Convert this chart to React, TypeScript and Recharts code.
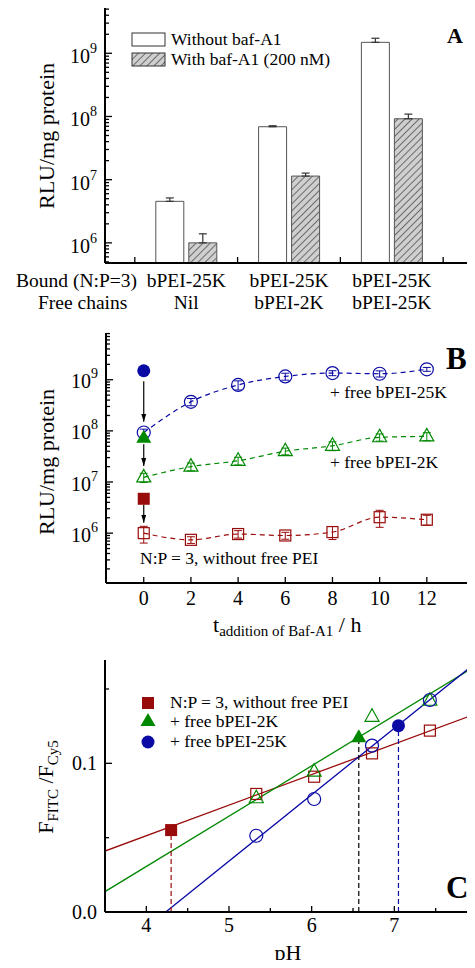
import React from 'react'
import { ComposedChart, Bar, Line, Scatter, XAxis, YAxis, ErrorBar, ReferenceLine } from 'recharts'

const FONT = '"Liberation Serif", "Times New Roman", serif'
const RED = '#990a0a'
const GREEN = '#008800'
const BLUE = '#0a0aa5'
const AXIS = { stroke: '#000', strokeWidth: 2 }

// ---- panel A: bar chart, RLU/mg protein
const groupPos = [1, 2, 3]
const boundChains = ['bPEI-25K', 'bPEI-25K', 'bPEI-25K']
const freeChains = ['Nil', 'bPEI-2K', 'bPEI-25K']
const noBaf = [4.54e6, 6.88e7, 1.49e9]
const noBafErr = [0.6e6, 0.25e7, 0.24e9]
const withBaf = [1.0e6, 1.14e7, 9.2e7]
const withBafErr = [0.39e6, 0.13e7, 1.7e7]
const aBoundaries = [0.5, 1.5, 2.5, 3.5]
const aMajorY = [1e6, 1e7, 1e8, 1e9]

// ---- panel B: time of baf-A1 addition
const hours = [0, 2, 4, 6, 8, 10, 12]
const noFree = [1.0e6, 7.4e5, 9.6e5, 9.0e5, 1.05e6, 2.05e6, 1.83e6]
const noFreeErr = [3.6e5, 1.1e5, 1.6e5, 1.4e5, 3.0e5, 7.5e5, 4.0e5]
const free2K = [1.23e7, 2.0e7, 2.6e7, 4.0e7, 5.1e7, 7.5e7, 7.8e7]
const free2KErr = [2.5e6, 3.5e6, 4.5e6, 6e6, 1.0e7, 1.2e7, 1.4e7]
const free25K = [9.3e7, 3.7e8, 7.9e8, 1.16e9, 1.35e9, 1.31e9, 1.6e9]
const free25KErr = [1.5e7, 6e7, 1.6e8, 1.8e8, 1.5e8, 1.8e8, 1.4e8]
// without baf-A1 (filled, t = 0), order: no free, 2K, 25K
const noBafAt0 = [4.7e6, 7.3e7, 1.5e9]
const arrowFrom = [3.6e6, 5.5e7, 9.3e8]
const arrowTo = [1.6e6, 2.05e7, 1.5e8]
const bMajorY = [1e6, 1e7, 1e8, 1e9]

// ---- panel C: pH calibration
const pHs = [5.33, 6.03, 6.73, 7.43]
const ratioNoFree = [0.0794, 0.091, 0.1067, 0.122]
const ratio2K = [0.0765, 0.0944, 0.1313, 0.1421]
const ratio25K = [0.0513, 0.076, 0.1119, 0.1426]
const fitNoFree = [[3.5, 0.041], [8, 0.1336]]
const fit2K = [[3.5, 0.0137], [8, 0.166]]
const fit25K = [[4.235, 0], [8, 0.1683]]
const endoPH = [4.3, 6.57, 7.05]
const endoRatio = [0.0551, 0.1175, 0.1253]
const cMajorX = [4, 5, 6, 7, 8]
const cMinorX = [4.5, 5.5, 6.5, 7.5]
const cMajorY = [0, 0.1]
const cMinorY = [0.05, 0.15]

function logMinors(lo: number, hi: number) {
  const out: number[] = []
  for (let e = Math.floor(Math.log10(lo)); e <= Math.ceil(Math.log10(hi)); e++) {
    for (let m = 2; m <= 9; m++) {
      const v = m * Math.pow(10, e)
      if (v >= lo && v <= hi) out.push(v)
    }
  }
  return out
}

const pow10 = (v: number) => (
  <>
    10<tspan dy={-10} fontSize={14}>{Math.round(Math.log10(v))}</tspan>
  </>
)

const leftTick = (majors: number[], fmt: (v: number) => React.ReactNode, dy: number) => (p: any) => {
  const v = p.payload.value
  const major = majors.includes(v)
  return (
    <g>
      <line x1={p.x} x2={p.x + (major ? 7 : 4)} y1={p.y} y2={p.y} stroke="#000" strokeWidth={1.3} />
      {major && (
        <text x={p.x - 8} y={p.y + dy} textAnchor="end" fontFamily={FONT} fontSize={20} fill="#000">
          {fmt(v)}
        </text>
      )}
    </g>
  )
}

const bottomTick = (majors: number[], dy: number, len = 6) => (p: any) => {
  const v = p.payload.value
  const major = majors.includes(v)
  return (
    <g>
      <line x1={p.x} x2={p.x} y1={p.y} y2={p.y - (major ? len : 4)} stroke="#000" strokeWidth={1.3} />
      {major && (
        <text x={p.x} y={p.y + dy} textAnchor="middle" fontFamily={FONT} fontSize={20} fill="#000">
          {v}
        </text>
      )}
    </g>
  )
}

const topTick = (p: any) => (
  <line x1={p.x} x2={p.x} y1={p.y} y2={p.y + 5} stroke="#000" strokeWidth={1.3} />
)

// A: ticks at group boundaries, two-line labels at group centres
const aBottomTick = (p: any) => {
  const v = p.payload.value
  const i = groupPos.indexOf(v)
  if (i < 0) return <line x1={p.x} x2={p.x} y1={p.y} y2={p.y - 6} stroke="#000" strokeWidth={1.3} />
  return (
    <g fontFamily={FONT} fontSize={19.5} fill="#000">
      <text x={p.x} y={p.y + 24} textAnchor="middle">{boundChains[i]}</text>
      <text x={p.x} y={p.y + 46} textAnchor="middle">{freeChains[i]}</text>
    </g>
  )
}

const openCircle = (c: string) => (p: any) => (
  <circle key={`oc${p.index}`} cx={p.cx} cy={p.cy} r={6.5} fill="none" stroke={c} strokeWidth={1.2} />
)
const openSquare = (c: string) => (p: any) => (
  <rect key={`os${p.index}`} x={p.cx - 5.5} y={p.cy - 5.5} width={11} height={11} fill="none" stroke={c} strokeWidth={1.2} />
)
const openTri = (c: string) => (p: any) => (
  <polygon
    key={`ot${p.index}`}
    points={`${p.cx},${p.cy - 8} ${p.cx - 7},${p.cy + 4.5} ${p.cx + 7},${p.cy + 4.5}`}
    fill="none"
    stroke={c}
    strokeWidth={1.2}
  />
)
const fillCircle = (c: string) => (p: any) => <circle cx={p.cx} cy={p.cy} r={6.5} fill={c} />
const fillSquare = (c: string) => (p: any) => <rect x={p.cx - 6} y={p.cy - 6} width={12} height={12} fill={c} />
const fillTri = (c: string) => (p: any) => (
  <polygon points={`${p.cx},${p.cy - 8} ${p.cx - 7.5},${p.cy + 5} ${p.cx + 7.5},${p.cy + 5}`} fill={c} />
)

function PanelA() {
  const data = groupPos.map((g, i) => ({
    g,
    noBaf: noBaf[i],
    noBafErr: [0, noBafErr[i]],
    withBaf: withBaf[i],
    withBafErr: [0, withBafErr[i]],
  }))
  const domY = [4.8e5, 5.4e9]
  const ticksY = [...aMajorY, ...logMinors(domY[0], domY[1])].sort((a, b) => a - b)
  return (
    <div style={{ position: 'absolute', left: 0, top: 0 }}>
      <ComposedChart width={475} height={320} data={data} margin={{ top: 7, right: 1, left: 0, bottom: 0 }} barGap={5}>
        <defs>
          <pattern id="hatchA" width="5" height="5" patternUnits="userSpaceOnUse" patternTransform="rotate(45)">
            <rect width="5" height="5" fill="#cfcfcf" />
            <line x1="0" y1="0" x2="0" y2="5" stroke="#333" strokeWidth="1.3" />
          </pattern>
        </defs>
        <XAxis dataKey="g" type="number" domain={[0.21, 3.8]} allowDataOverflow ticks={[...aBoundaries, ...groupPos]}
          interval={0} height={57} tickSize={0} tickMargin={0} tickLine={false} axisLine={AXIS} tick={aBottomTick} />
        <XAxis xAxisId="top" orientation="top" type="number" domain={[0.21, 3.8]} allowDataOverflow ticks={aBoundaries}
          interval={0} height={0} tickSize={0} tickMargin={0} tickLine={false} axisLine={AXIS} tick={topTick} />
        <YAxis scale="log" domain={domY} allowDataOverflow ticks={ticksY} interval={0} width={105}
          tickSize={0} tickMargin={0} tickLine={false} axisLine={AXIS} tick={leftTick(aMajorY, pow10, 10)} />
        <YAxis yAxisId="right" orientation="right" domain={[0, 1]} width={0} tick={false} tickLine={false} axisLine={AXIS} />
        <Bar dataKey="noBaf" barSize={28} fill="#fff" stroke="#555" strokeWidth={1} isAnimationActive={false}>
          <ErrorBar dataKey="noBafErr" width={4} stroke="#333" strokeWidth={1.2} direction="y" />
        </Bar>
        <Bar dataKey="withBaf" barSize={28} fill="url(#hatchA)" stroke="#555" strokeWidth={1} isAnimationActive={false}>
          <ErrorBar dataKey="withBafErr" width={4} stroke="#333" strokeWidth={1.2} direction="y" />
        </Bar>
      </ComposedChart>
    </div>
  )
}

function PanelB() {
  const rows = (vals: number[], errs: number[]) => hours.map((t, i) => ({ t, v: vals[i], e: errs[i] }))
  const domY = [1.06e5, 8.2e9]
  const ticksY = [...bMajorY, ...logMinors(domY[0], domY[1])].sort((a, b) => a - b)
  const colors = [RED, GREEN, BLUE]
  const filled = [fillSquare(RED), fillTri(GREEN), fillCircle(BLUE)]
  const dash = '5 4'
  return (
    <div style={{ position: 'absolute', left: 0, top: 320 }}>
      <ComposedChart width={475} height={300} margin={{ top: 13, right: 1, left: 0, bottom: 0 }}>
        <defs>
          <marker id="arrowB" viewBox="0 0 10 10" refX="10" refY="5" markerWidth="8" markerHeight="5"
            markerUnits="userSpaceOnUse" orient="auto" preserveAspectRatio="none">
            <path d="M0,0 L10,5 L0,10 z" fill="#000" />
          </marker>
        </defs>
        <XAxis dataKey="t" type="number" domain={[-1.6, 14]} allowDataOverflow ticks={hours} interval={0} height={37}
          tickSize={0} tickMargin={0} tickLine={false} axisLine={AXIS} tick={bottomTick(hours, 21.5)} />
        <XAxis xAxisId="top" orientation="top" type="number" domain={[-1.6, 14]} allowDataOverflow ticks={hours}
          interval={0} height={0} tickSize={0} tickMargin={0} tickLine={false} axisLine={AXIS} tick={topTick} />
        <YAxis scale="log" domain={domY} allowDataOverflow ticks={ticksY} interval={0} width={106}
          tickSize={0} tickMargin={0} tickLine={false} axisLine={AXIS} tick={leftTick(bMajorY, pow10, 8.5)} />
        <YAxis yAxisId="right" orientation="right" domain={[0, 1]} width={0} tick={false} tickLine={false} axisLine={AXIS} />
        <Line data={rows(noFree, noFreeErr)} dataKey="v" type="monotone" stroke={RED} strokeWidth={1.2}
          strokeDasharray={dash} dot={openSquare(RED)} activeDot={false} isAnimationActive={false}>
          <ErrorBar dataKey="e" width={4} stroke={RED} strokeWidth={1} direction="y" />
        </Line>
        <Line data={rows(free2K, free2KErr)} dataKey="v" type="monotone" stroke={GREEN} strokeWidth={1.2}
          strokeDasharray={dash} dot={openTri(GREEN)} activeDot={false} isAnimationActive={false}>
          <ErrorBar dataKey="e" width={4} stroke={GREEN} strokeWidth={1} direction="y" />
        </Line>
        <Line data={rows(free25K, free25KErr)} dataKey="v" type="monotone" stroke={BLUE} strokeWidth={1.2}
          strokeDasharray={dash} dot={openCircle(BLUE)} activeDot={false} isAnimationActive={false}>
          <ErrorBar dataKey="e" width={4} stroke={BLUE} strokeWidth={1} direction="y" />
        </Line>
        {noBafAt0.map((v, i) => (
          <Scatter key={`f${i}`} data={[{ t: hours[0], v }]} dataKey="v" fill={colors[i]} shape={filled[i]} isAnimationActive={false} />
        ))}
        {arrowFrom.map((f, i) => (
          <ReferenceLine
            key={`a${i}`}
            segment={[{ x: hours[0], y: f }, { x: hours[0], y: arrowTo[i] }]}
            shape={(p: any) => (
              <line x1={p.x1} y1={p.y1} x2={p.x2} y2={p.y2} stroke="#000" strokeWidth={1.2} markerEnd="url(#arrowB)" />
            )}
          />
        ))}
      </ComposedChart>
    </div>
  )
}

function PanelC() {
  const pts = (vals: number[]) => pHs.map((x, i) => ({ x, y: vals[i] }))
  const fit = (f: number[][]) => f.map(([x, y]) => ({ x, y }))
  const dropColors = [RED, '#000', BLUE]
  const filled = [fillSquare(RED), fillTri(GREEN), fillCircle(BLUE)]
  const ticksX = [...cMajorX, ...cMinorX].sort((a, b) => a - b)
  const ticksY = [...cMajorY, ...cMinorY].sort((a, b) => a - b)
  return (
    <div style={{ position: 'absolute', left: 0, top: 630 }}>
      <ComposedChart width={480} height={338} margin={{ top: 30, right: 3, left: 0, bottom: 0 }}>
        <XAxis dataKey="x" type="number" domain={[3.5, 8]} allowDataOverflow ticks={ticksX} interval={0} height={56}
          tickSize={0} tickMargin={0} tickLine={false} axisLine={AXIS} tick={bottomTick(cMajorX, 20)} />
        <XAxis xAxisId="top" orientation="top" type="number" domain={[3.5, 8]} allowDataOverflow ticks={ticksX}
          interval={0} height={0} tickSize={0} tickMargin={0} tickLine={false} axisLine={AXIS} tick={topTick} />
        <YAxis dataKey="y" type="number" domain={[0, 0.1695]} allowDataOverflow ticks={ticksY} interval={0} width={105}
          tickSize={0} tickMargin={0} tickLine={false} axisLine={AXIS}
          tick={leftTick(cMajorY, (v) => v.toFixed(1), 7)} />
        <Line data={fit(fitNoFree)} dataKey="y" type="linear" stroke={RED} strokeWidth={1.3} dot={false} activeDot={false} isAnimationActive={false} />
        <Line data={fit(fit2K)} dataKey="y" type="linear" stroke={GREEN} strokeWidth={1.3} dot={false} activeDot={false} isAnimationActive={false} />
        <Line data={fit(fit25K)} dataKey="y" type="linear" stroke={BLUE} strokeWidth={1.3} dot={false} activeDot={false} isAnimationActive={false} />
        {endoPH.map((x, i) => (
          <ReferenceLine key={`d${i}`} segment={[{ x, y: 0 }, { x, y: endoRatio[i] }]} stroke={dropColors[i]} strokeWidth={1.2} strokeDasharray="5 3" />
        ))}
        <Scatter data={pts(ratioNoFree)} dataKey="y" fill={RED} shape={openSquare(RED)} isAnimationActive={false} />
        <Scatter data={pts(ratio2K)} dataKey="y" fill={GREEN} shape={openTri(GREEN)} isAnimationActive={false} />
        <Scatter data={pts(ratio25K)} dataKey="y" fill={BLUE} shape={openCircle(BLUE)} isAnimationActive={false} />
        {endoPH.map((x, i) => (
          <Scatter key={`e${i}`} data={[{ x, y: endoRatio[i] }]} dataKey="y" shape={filled[i]} isAnimationActive={false} />
        ))}
      </ComposedChart>
    </div>
  )
}

function Annotations() {
  return (
    <svg width={475} height={968} style={{ position: 'absolute', left: 0, top: 0, pointerEvents: 'none' }} fontFamily={FONT}>
      <defs>
        <pattern id="hatchL" width="5" height="5" patternUnits="userSpaceOnUse" patternTransform="rotate(45)">
          <rect width="5" height="5" fill="#cfcfcf" />
          <line x1="0" y1="0" x2="0" y2="5" stroke="#333" strokeWidth="1.3" />
        </pattern>
      </defs>
      {/* A */}
      <text x={447} y={43} fontSize={22} fontWeight="bold">A</text>
      <rect x={132} y={33} width={33} height={13} fill="#fff" stroke="#333" />
      <rect x={132} y={53} width={33} height={13} fill="url(#hatchL)" stroke="#333" />
      <text x={171} y={45} fontSize={17.5}>Without baf-A1</text>
      <text x={171} y={65} fontSize={17.5}>With baf-A1 (200 nM)</text>
      <text transform="translate(53.5,136) rotate(-90)" textAnchor="middle" fontSize={22}>RLU/mg protein</text>
      <text x={16} y={287} fontSize={19.5}>Bound (N:P=3)</text>
      <text x={38} y={309} fontSize={19.5}>Free chains</text>
      {/* B */}
      <text x={446} y={369} fontSize={31} fontWeight="bold">B</text>
      <text transform="translate(53.5,462) rotate(-90)" textAnchor="middle" fontSize={22}>RLU/mg protein</text>
      <text x={330} y={398} fontSize={17.5}>+ free bPEI-25K</text>
      <text x={330} y={468} fontSize={17.5}>+ free bPEI-2K</text>
      <text x={140} y={564} fontSize={17.5}>N:P = 3, without free PEI</text>
      <text x={213} y={632} fontSize={22}>
        t<tspan fontSize={15} dy={4}>addition of Baf-A1</tspan>
        <tspan dy={-4}>{'\u00a0/ h'}</tspan>
      </text>
      {/* C */}
      <text x={446} y={898} fontSize={31} fontWeight="bold">C</text>
      <text transform="translate(53,787) rotate(-90)" textAnchor="middle" fontSize={22}>
        F<tspan fontSize={15} dy={5}>FITC</tspan>
        <tspan dy={-5}>{'\u00a0/F'}</tspan>
        <tspan fontSize={15} dy={5}>Cy5</tspan>
      </text>
      <text x={288} y={960} textAnchor="middle" fontSize={22}>pH</text>
      <rect x={142} y={697} width={12} height={12} fill={RED} />
      <polygon points="148,713 140.5,726 155.5,726" fill={GREEN} />
      <circle cx={148} cy={742} r={6.5} fill={BLUE} />
      <text x={170} y={708} fontSize={17.5}>N:P = 3, without free PEI</text>
      <text x={170} y={727} fontSize={17.5}>+ free bPEI-2K</text>
      <text x={170} y={747} fontSize={17.5}>+ free bPEI-25K</text>
    </svg>
  )
}

export default function App() {
  return (
    <div style={{ position: 'relative', width: 475, height: 968, margin: -8, overflow: 'hidden', background: '#fff', fontFamily: FONT }}>
      <PanelA />
      <PanelB />
      <PanelC />
      <Annotations />
    </div>
  )
}
